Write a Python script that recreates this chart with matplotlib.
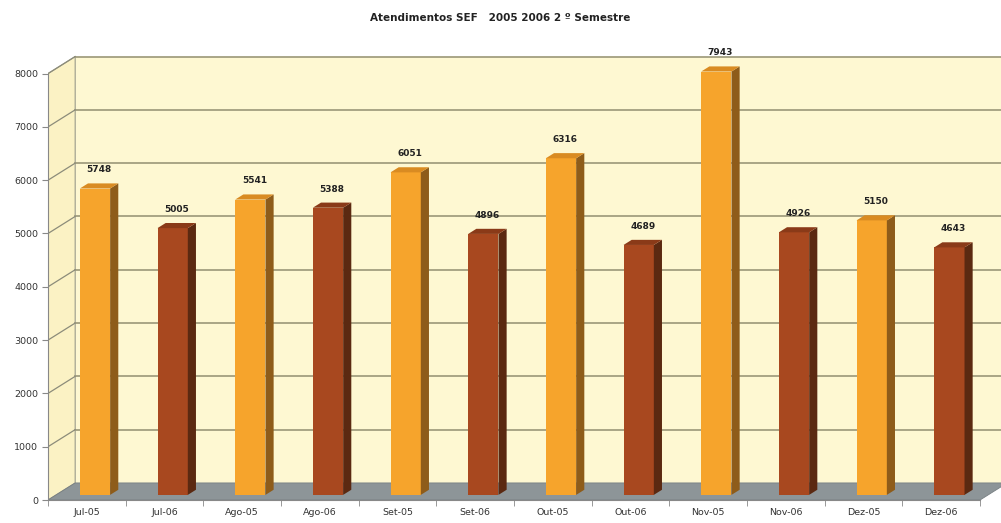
import matplotlib.pyplot as plt
from matplotlib.patches import Polygon

# Data
months = ['Jul-05', 'Jul-06', 'Ago-05', 'Ago-06', 'Set-05', 'Set-06',
          'Out-05', 'Out-06', 'Nov-05', 'Nov-06', 'Dez-05', 'Dez-06']
values = [5748, 5005, 5541, 5388, 6051, 4896, 6316, 4689, 7943, 4926, 5150, 4643]
years = ['2005', '2006'] * 6
yticks = [0, 1000, 2000, 3000, 4000, 5000, 6000, 7000, 8000]

# colours per year: (front, side, top)
colors = {'2005': ('#F6A42C', '#8E5C1A', '#D98B22'),
          '2006': ('#A8481F', '#5B2911', '#8A3A18')}

# pseudo 3D depth (data units)
DX, DY = 0.35, 320
F = 0.3          # bar position inside the depth
BW = 0.39        # bar front width
BDX, BDY = 0.3 * DX, 0.3 * DY

fig = plt.figure(figsize=(10.01, 5.23), dpi=100)
px_x, px_y = 77.67, 53.3 / 1000
ax = fig.add_axes([48 / 1001, 23 / 523, 953 / 1001, 470 / 523])
ax.set_xlim(-0.5, -0.5 + 953 / px_x)
ax.set_ylim(0, 470 / px_y)

x0, x1 = -0.5, 11.5
ymax = 8000
grid_c = '#A39F80'

# back wall, left wall, floor
ax.add_patch(Polygon([(x0 + DX, DY), (x1 + DX, DY), (x1 + DX, ymax + DY), (x0 + DX, ymax + DY)],
                     closed=True, facecolor='#FEF8D2', edgecolor='none', zorder=0))
ax.add_patch(Polygon([(x0, 0), (x0 + DX, DY), (x0 + DX, ymax + DY), (x0, ymax)],
                     closed=True, facecolor='#FBF2C4', edgecolor='#9A9A8A', lw=0.8, zorder=0))
ax.add_patch(Polygon([(x0, 0), (x1, 0), (x1 + DX, DY), (x0 + DX, DY)],
                     closed=True, facecolor='#8D9598', edgecolor='#777F82', lw=0.6, zorder=1))

# gridlines on the walls
for v in yticks[1:]:
    ax.plot([x0 + DX, x1 + DX], [v + DY, v + DY], color=grid_c, lw=1.3, zorder=0.5)
    ax.plot([x0, x0 + DX], [v, v + DY], color='#8C8C7A', lw=0.9, zorder=0.5)

# bars
for i, (v, yr) in enumerate(zip(values, years)):
    front, side, top = colors[yr]
    l = i - BW / 2 + F * DX
    r = l + BW
    b = F * DY
    t = v + F * DY
    ax.add_patch(Polygon([(l, b), (r, b), (r, t), (l, t)], closed=True,
                         facecolor=front, edgecolor='none', zorder=3))
    ax.add_patch(Polygon([(r, b), (r + BDX, b + BDY), (r + BDX, t + BDY), (r, t)], closed=True,
                         facecolor=side, edgecolor='none', zorder=3))
    ax.add_patch(Polygon([(l, t), (r, t), (r + BDX, t + BDY), (l + BDX, t + BDY)], closed=True,
                         facecolor=top, edgecolor='none', zorder=3))
    ax.text((l + r) / 2 + BDX / 2, t + BDY + 170, str(v), ha='center', va='bottom',
            fontsize=6.5, fontweight='bold', color='#222222', zorder=4)

# axes
for s in ['top', 'right']:
    ax.spines[s].set_visible(False)
ax.spines['left'].set_bounds(0, ymax)
ax.spines['bottom'].set_bounds(x0, x1)
ax.spines['left'].set_color('#888888')
ax.spines['bottom'].set_color('#888888')
ax.set_yticks(yticks)
ax.set_yticklabels([str(v) for v in yticks], fontsize=6.8, color='#333333')
ax.set_xticks(range(len(months)))
ax.set_xticklabels(months, fontsize=6.8, color='#333333')
ax.tick_params(axis='x', which='major', length=0, pad=6)
ax.set_xticks([x0 + k for k in range(13)], minor=True)
ax.tick_params(axis='x', which='minor', length=4, color='#888888')
ax.tick_params(axis='y', length=4, color='#888888', pad=3)

fig.text(0.5, 0.965, 'Atendimentos SEF   2005 2006 2 º Semestre', ha='center', va='center',
         fontsize=7.5, fontweight='bold', color='#222222')

fig.savefig('out.png', dpi=100)
